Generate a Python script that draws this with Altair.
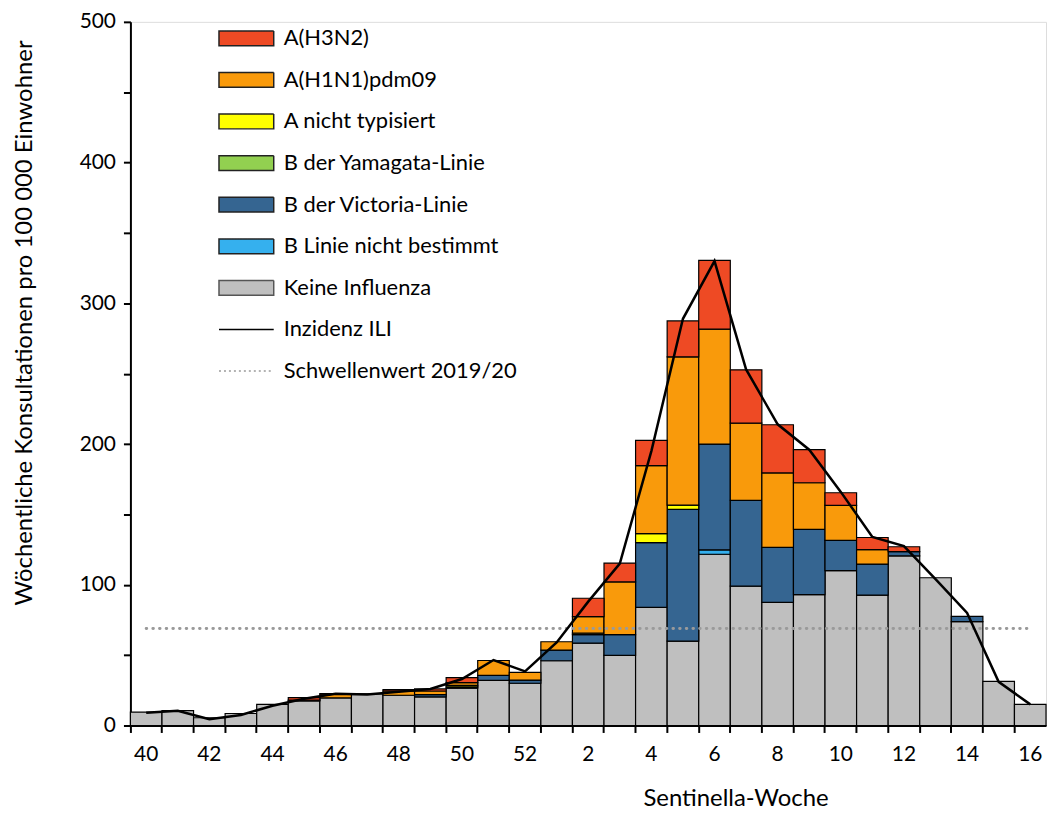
import altair as alt
import pandas as pd

weeks = [40, 41, 42, 43, 44, 45, 46, 47, 48, 49, 50, 51, 52,
         1, 2, 3, 4, 5, 6, 7, 8, 9, 10, 11, 12, 13, 14, 15, 16]

keine_influenza = [9.5, 10.5, 5.5, 8.5, 15, 17.5, 19.6, 22.5, 21.5, 20.3, 26.5, 32, 30,
                   46, 58.5, 49.8, 84, 60, 121.7, 99, 87.5, 93, 110, 92.7, 120.5, 105, 73.8, 31.4, 15]
b_nicht_bestimmt = [0, 0, 0, 0, 0, 0, 0, 0, 0, 0, 0, 0, 0,
                    0, 0, 0, 0, 0, 3.1, 0, 0, 0, 0, 0, 0, 0, 0, 0, 0]
b_victoria = [0, 0, 0, 0, 0, 0.5, 0, 0, 0, 1.6, 1, 3.6, 2.3,
              7.6, 6.1, 14.8, 46, 93.6, 75.2, 61, 39, 46.4, 21.6, 22, 3, 0, 3.8, 0, 0]
b_yamagata = [0, 0, 0, 0, 0, 0, 0, 0, 0, 0, 0, 0, 0,
              0, 0, 0, 0, 0, 0, 0, 0, 0, 0, 0, 0, 0, 0, 0, 0]
a_nicht_typisiert = [0, 0, 0, 0, 0, 0, 0, 0, 0, 0, 1, 0, 0,
                     0, 1, 0, 6.3, 3, 0, 0, 0, 0, 0, 0, 0, 0, 0, 0, 0]
a_h1n1 = [0, 0, 0, 0, 0, 0, 2.6, 0, 3, 2.6, 2, 10.6, 5.5,
          5.9, 11.8, 37.4, 48.4, 105.4, 81.7, 54.8, 53, 33.1, 24.8, 10.2, 0, 0, 0, 0, 0]
a_h3n2 = [0, 0, 0, 0, 0, 1.8, 0.5, 0, 1, 1.5, 3.5, 0, 0,
          0, 13, 13.4, 17.9, 25.5, 48.8, 37.9, 34.2, 23.5, 9, 8.7, 3.5, 0, 0, 0, 0]
inzidenz_ili = [9, 10.5, 4.5, 7.5, 14, 19, 22.5, 22, 24, 26, 33, 46.5, 38.5,
                59, 88, 115, 195, 289, 330, 253, 214, 196, 166, 134, 127.5, 104, 80, 31, 15]
schwellenwert = 69

series_names = ["A(H3N2)", "A(H1N1)pdm09", "A nicht typisiert", "B der Yamagata-Linie",
                "B der Victoria-Linie", "B Linie nicht bestimmt", "Keine Influenza",
                "Inzidenz ILI", "Schwellenwert 2019/20"]
fill_colors = ["#EE4A24", "#F99A0B", "#FFFF00", "#92D050", "#356591", "#35B0EE", "#BFBFBF",
               "transparent", "transparent"]
stroke_colors = ["#222222", "#222222", "#222222", "#222222", "#222222", "#222222", "#555555",
                 "#000000", "#9A9A9A"]
rect_path = "M-1,-0.27H1V0.27H-1Z"
line_path = "M-1,0H1"
shapes = [rect_path] * 7 + [line_path, line_path]
dashes = [[1, 0]] * 8 + [[2, 3]]

stack_series = [
    ("Keine Influenza", keine_influenza),
    ("B Linie nicht bestimmt", b_nicht_bestimmt),
    ("B der Victoria-Linie", b_victoria),
    ("B der Yamagata-Linie", b_yamagata),
    ("A nicht typisiert", a_nicht_typisiert),
    ("A(H1N1)pdm09", a_h1n1),
    ("A(H3N2)", a_h3n2),
]
rows = []
for order, (name, vals) in enumerate(stack_series):
    for w, v in zip(weeks, vals):
        rows.append({"week": w, "series": name, "value": v, "ord": order})
bars_df = pd.DataFrame(rows)

ili_df = pd.DataFrame({"week": weeks, "ili": inzidenz_ili})
thr_df = pd.DataFrame({"week": weeks, "thr": [schwellenwert] * len(weeks)})
legend_df = pd.DataFrame({"week": weeks[:len(series_names)], "series": series_names})

FONT = "Lato"

x_enc = alt.X(
    "week:O", sort=weeks,
    scale=alt.Scale(paddingInner=0, paddingOuter=0),
    axis=alt.Axis(
        title="Sentinella-Woche", labelExpr="datum.value % 2 == 0 ? datum.label : ''",
        labelAngle=0, bandPosition=0, tickSize=7, tickWidth=2, tickColor="black",
        domainColor="black", domainWidth=2, labelPadding=11, labelFont=FONT,
        labelFontSize=21, labelColor="black", titleFont=FONT, titleFontSize=24,
        titleFontWeight="normal", titleColor="black", titleX=608, titleY=73,
        titleAnchor="middle", titleBaseline="middle",
    ),
)
y_scale = alt.Scale(domain=[0, 500], nice=False)
y_axis = alt.Axis(
    title="Wöchentliche Konsultationen pro 100 000 Einwohner",
    values=list(range(0, 501, 50)), labelExpr="datum.value % 100 == 0 ? datum.label : ''",
    tickSize=7, tickWidth=2, tickColor="black", domainColor="black", domainWidth=2,
    grid=False, labelPadding=8, labelFont=FONT, labelFontSize=21, labelColor="black",
    titleFont=FONT, titleFontSize=24, titleFontWeight="normal", titleColor="black",
    titleX=-106, titleY=302, titleBaseline="middle", titleAngle=-90, titleAnchor="middle",
)

fill_scale = alt.Scale(domain=series_names, range=fill_colors)
legend_def = alt.Legend(
    title=None, orient="none", legendX=88, legendY=-12, symbolSize=3025,
    symbolStrokeWidth=1.5, labelFont=FONT, labelFontSize=22, labelColor="black",
    labelOffset=9, rowPadding=1.8, padding=0, labelLimit=400,
)

bars = alt.Chart(bars_df).transform_filter("datum.value > 0").mark_bar(
    stroke="black", strokeWidth=1.2
).encode(
    x=x_enc,
    y=alt.Y("value:Q", stack="zero", scale=y_scale, axis=y_axis),
    fill=alt.Fill("series:N", scale=fill_scale, legend=legend_def),
    order=alt.Order("ord:Q", sort="ascending"),
)

thr = alt.Chart(thr_df).mark_line(
    color="#9A9A9A", strokeWidth=3, strokeDash=[0.5, 6.2], strokeCap="round"
).encode(x=alt.X("week:O", sort=weeks), y=alt.Y("thr:Q", scale=y_scale))

ili = alt.Chart(ili_df).mark_line(color="black", strokeWidth=2.5).encode(
    x=alt.X("week:O", sort=weeks), y=alt.Y("ili:Q", scale=y_scale)
)

legend_layer = alt.Chart(legend_df).transform_filter("false").mark_point(
    filled=True, strokeWidth=1.5, size=3025, opacity=1
).encode(
    x=alt.X("week:O", sort=weeks),
    fill=alt.Fill("series:N", scale=fill_scale, legend=legend_def),
    stroke=alt.Stroke("series:N", scale=alt.Scale(domain=series_names, range=stroke_colors),
                      legend=legend_def),
    shape=alt.Shape("series:N", scale=alt.Scale(domain=series_names, range=shapes),
                    legend=legend_def),
    strokeDash=alt.StrokeDash("series:N", scale=alt.Scale(domain=series_names, range=dashes),
                              legend=legend_def),
)

chart = alt.layer(bars, thr, ili, legend_layer).properties(
    width=920, height=707,
    padding={"left": 5, "top": 0, "right": 4, "bottom": 0},
).configure_view(stroke=None).configure(background="white")

chart.save("out.html", embed_options={"renderer": "svg", "actions": False})
